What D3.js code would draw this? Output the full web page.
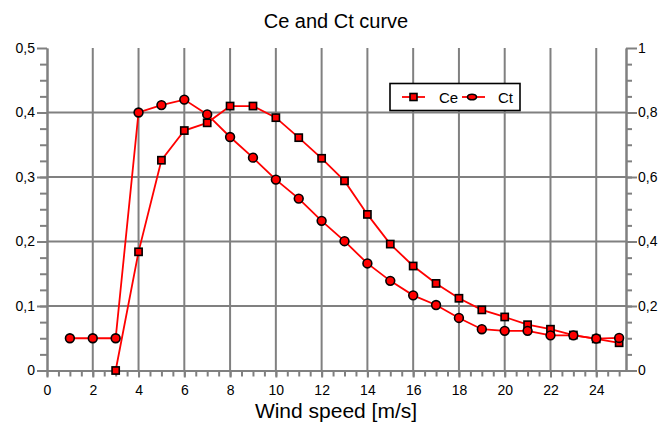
<!DOCTYPE html>
<html>
<head>
<meta charset="utf-8">
<script src="https://cdn.jsdelivr.net/npm/d3@7"></script>
<style>
  body { margin: 0; background: #fff; }
  svg { display: block; font-family: "Liberation Sans", Arial, sans-serif; }
  .axis path, .axis line { stroke: #808080; stroke-width: 2; }
  .axis text { fill: #000; font-size: 14px; }
  .grid line { stroke: #808080; stroke-width: 2; }
</style>
</head>
<body>
<div id="chart"></div>
<script>
// wind speed [m/s]
const ceSpeed = [3, 4, 5, 6, 7, 8, 9, 10, 11, 12, 13, 14, 15, 16, 17, 18, 19, 20, 21, 22, 23, 24, 25];
const ceValues = [0, 0.184, 0.326, 0.372, 0.384, 0.41, 0.41, 0.392, 0.361, 0.329, 0.294, 0.242, 0.196, 0.162, 0.135, 0.112, 0.094, 0.083, 0.071, 0.064, 0.055, 0.049, 0.043];

const ctSpeed = [1, 2, 3, 4, 5, 6, 7, 8, 9, 10, 11, 12, 13, 14, 15, 16, 17, 18, 19, 20, 21, 22, 23, 24, 25];
const ctValues = [0.1, 0.1, 0.1, 0.8, 0.823, 0.84, 0.794, 0.724, 0.66, 0.592, 0.533, 0.464, 0.401, 0.332, 0.278, 0.233, 0.203, 0.163, 0.128, 0.123, 0.123, 0.109, 0.109, 0.099, 0.101];

const xTicks = [0, 2, 4, 6, 8, 10, 12, 14, 16, 18, 20, 22, 24];
const leftTicks = [0, 0.1, 0.2, 0.3, 0.4, 0.5];
const rightTicks = [0, 0.2, 0.4, 0.6, 0.8, 1];

const width = 672;
const height = 423;

const svg = d3.select("#chart")
    .append("svg")
    .attr("width", width)
    .attr("height", height);

const x = d3.scaleLinear().domain([0, 25.3]).range([47, 626]);
const yL = d3.scaleLinear().domain([0, 0.5]).range([370.5, 48]);
const yR = d3.scaleLinear().domain([0, 1]).range([370.5, 48]);

const fmt = d => String(d).replace(".", ",");

// grid
const grid = svg.append("g").attr("class", "grid");
grid.selectAll(".v")
    .data(xTicks.slice(1))
    .enter().append("line")
    .attr("x1", d => x(d)).attr("x2", d => x(d))
    .attr("y1", yL(0.5)).attr("y2", yL(0));
grid.selectAll(".h")
    .data(leftTicks.slice(1, -1))
    .enter().append("line")
    .attr("x1", x(0)).attr("x2", x.range()[1])
    .attr("y1", d => yL(d)).attr("y2", d => yL(d));

// minor ticks
svg.append("g").attr("class", "axis")
    .attr("transform", `translate(0,${yL(0)})`)
    .call(d3.axisBottom(x).tickValues(d3.range(0, 25.3, 0.5)).tickSize(6).tickSizeOuter(0).tickFormat(""));
svg.append("g").attr("class", "axis")
    .attr("transform", `translate(${x(0)},0)`)
    .call(d3.axisLeft(yL).tickValues(d3.range(0, 0.5, 0.025)).tickSize(7).tickSizeOuter(0).tickFormat(""));
svg.append("g").attr("class", "axis")
    .attr("transform", `translate(${x.range()[1]},0)`)
    .call(d3.axisRight(yR).tickValues(d3.range(0, 1, 0.05)).tickSize(6).tickSizeOuter(0).tickFormat(""));

// major ticks + labels
svg.append("g").attr("class", "axis")
    .attr("transform", `translate(0,${yL(0)})`)
    .call(d3.axisBottom(x).tickValues(xTicks).tickSize(7).tickPadding(8).tickSizeOuter(0).tickFormat(fmt));
svg.append("g").attr("class", "axis")
    .attr("transform", `translate(${x(0)},0)`)
    .call(d3.axisLeft(yL).tickValues(leftTicks).tickSize(10).tickPadding(2).tickSizeOuter(0).tickFormat(fmt));
svg.append("g").attr("class", "axis")
    .attr("transform", `translate(${x.range()[1]},0)`)
    .call(d3.axisRight(yR).tickValues(rightTicks).tickSize(11).tickPadding(1).tickSizeOuter(0).tickFormat(fmt));

svg.selectAll(".axis text").style("font-size", "14px");

// series
const ce = ceSpeed.map((s, i) => [s, ceValues[i]]);
const ct = ctSpeed.map((s, i) => [s, ctValues[i]]);

svg.append("path")
    .datum(ce)
    .attr("fill", "none").attr("stroke", "#ff0000").attr("stroke-width", 1.8)
    .attr("d", d3.line().x(d => x(d[0])).y(d => yL(d[1])));
svg.selectAll(".sq")
    .data(ce)
    .enter().append("rect")
    .attr("x", d => x(d[0]) - 3.6).attr("y", d => yL(d[1]) - 3.6)
    .attr("width", 7.2).attr("height", 7.2)
    .attr("fill", "#ff0000").attr("stroke", "#000").attr("stroke-width", 1.6);

svg.append("path")
    .datum(ct)
    .attr("fill", "none").attr("stroke", "#ff0000").attr("stroke-width", 1.8)
    .attr("d", d3.line().x(d => x(d[0])).y(d => yR(d[1])));
svg.selectAll(".dot")
    .data(ct)
    .enter().append("circle")
    .attr("cx", d => x(d[0])).attr("cy", d => yR(d[1]))
    .attr("r", 4.4)
    .attr("fill", "#ff0000").attr("stroke", "#000").attr("stroke-width", 1.6);

// legend
const lg = svg.append("g");
lg.append("rect")
    .attr("x", 390).attr("y", 83.5).attr("width", 130).attr("height", 27)
    .attr("fill", "#fff").attr("stroke", "#000").attr("stroke-width", 1.6);
lg.append("line").attr("x1", 402).attr("x2", 425).attr("y1", 97).attr("y2", 97)
    .attr("stroke", "#ff0000").attr("stroke-width", 1.8);
lg.append("rect").attr("x", 410).attr("y", 93.5).attr("width", 7).attr("height", 7)
    .attr("fill", "#ff0000").attr("stroke", "#000").attr("stroke-width", 1.6);
lg.append("text").attr("x", 439).attr("y", 102.5).attr("font-size", 15).text("Ce");
lg.append("line").attr("x1", 462).attr("x2", 485).attr("y1", 97).attr("y2", 97)
    .attr("stroke", "#ff0000").attr("stroke-width", 1.8);
lg.append("ellipse").attr("cx", 472).attr("cy", 97).attr("rx", 4.5).attr("ry", 2.8)
    .attr("fill", "#ff0000").attr("stroke", "#000").attr("stroke-width", 1.6);
lg.append("text").attr("x", 498).attr("y", 102.5).attr("font-size", 15).text("Ct");

// titles
svg.append("text")
    .attr("x", 336).attr("y", 28)
    .attr("text-anchor", "middle").attr("font-size", 20)
    .text("Ce and Ct curve");
svg.append("text")
    .attr("x", 336).attr("y", 418)
    .attr("text-anchor", "middle").attr("font-size", 21)
    .text("Wind speed [m/s]");
</script>
</body>
</html>
